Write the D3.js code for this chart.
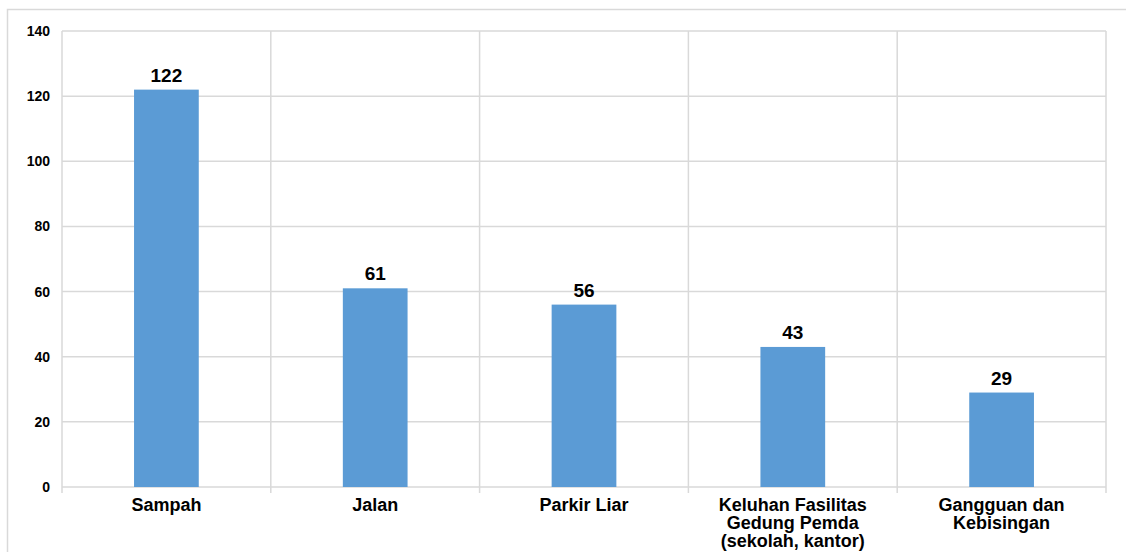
<!DOCTYPE html>
<html>
<head>
<meta charset="utf-8">
<script src="https://cdn.jsdelivr.net/npm/d3@7"></script>
<style>
  body { margin: 0; background: #fff; }
  svg { display: block; font-family: "Liberation Sans", Arial, sans-serif; }
</style>
</head>
<body>
<svg id="chart" width="1126" height="552"></svg>
<script>
// Complaint counts per category
const categories = [
  ["Sampah"],
  ["Jalan"],
  ["Parkir Liar"],
  ["Keluhan Fasilitas", "Gedung Pemda", "(sekolah, kantor)"],
  ["Gangguan dan", "Kebisingan"]
];
const values = [122, 61, 56, 43, 29];
const yTicks = [0, 20, 40, 60, 80, 100, 120, 140];

const svg = d3.select("#chart");
const margin = { left: 62, right: 20, top: 31, bottom: 65 };
const W = 1126, H = 552;
const gridColor = "#d9d9d9";

// outer frame
svg.append("path")
  .attr("d", `M7.5,${H}V9.5H${W}`)
  .attr("fill", "none").attr("stroke", gridColor).attr("stroke-width", 1.5);

const x = d3.scaleBand()
  .domain(d3.range(categories.length))
  .range([margin.left, W - margin.right])
  .paddingInner(0).paddingOuter(0);

const y = d3.scaleLinear().domain([0, 140]).range([H - margin.bottom, margin.top]);

// horizontal grid
svg.append("g").selectAll("line").data(yTicks).join("line")
  .attr("x1", margin.left).attr("x2", W - margin.right)
  .attr("y1", d => y(d)).attr("y2", d => y(d))
  .attr("stroke", gridColor).attr("stroke-width", 1.5);

// vertical category separators, extending slightly below the axis
const bounds = d3.range(categories.length + 1).map(i =>
  i < categories.length ? x(i) : x(categories.length - 1) + x.bandwidth());
svg.append("g").selectAll("line").data(bounds).join("line")
  .attr("x1", d => d).attr("x2", d => d)
  .attr("y1", y(140)).attr("y2", y(0) + 6)
  .attr("stroke", gridColor).attr("stroke-width", 1.5);

// y axis labels
const yAxis = d3.axisLeft(y).tickValues(yTicks).tickSize(0).tickPadding(12);
const yg = svg.append("g").attr("transform", `translate(${margin.left},0)`).call(yAxis);
yg.select(".domain").remove();
yg.selectAll("text")
  .attr("font-size", 14).attr("font-weight", "bold").attr("fill", "#000")
  .style("font-family", "'Liberation Sans', Arial, sans-serif");

// bars
const barW = x.bandwidth() * 0.31;
svg.append("g").selectAll("rect").data(values).join("rect")
  .attr("x", (d, i) => x(i) + (x.bandwidth() - barW) / 2)
  .attr("y", d => y(d))
  .attr("width", barW)
  .attr("height", d => y(0) - y(d))
  .attr("fill", "#5b9bd5");

// value labels
svg.append("g").selectAll("text").data(values).join("text")
  .attr("x", (d, i) => x(i) + x.bandwidth() / 2)
  .attr("y", d => y(d) - 8)
  .attr("text-anchor", "middle")
  .attr("font-size", 19).attr("font-weight", "bold").attr("fill", "#000")
  .text(d => d);

// category labels
const cg = svg.append("g").selectAll("text").data(categories).join("text")
  .attr("x", (d, i) => x(i) + x.bandwidth() / 2)
  .attr("y", y(0) + 24)
  .attr("text-anchor", "middle")
  .attr("font-size", 18).attr("font-weight", "bold").attr("fill", "#000");
cg.selectAll("tspan").data(d => d).join("tspan")
  .attr("x", function () { return d3.select(this.parentNode).attr("x"); })
  .attr("dy", (d, i) => i === 0 ? 0 : 18)
  .text(d => d);
</script>
</body>
</html>
